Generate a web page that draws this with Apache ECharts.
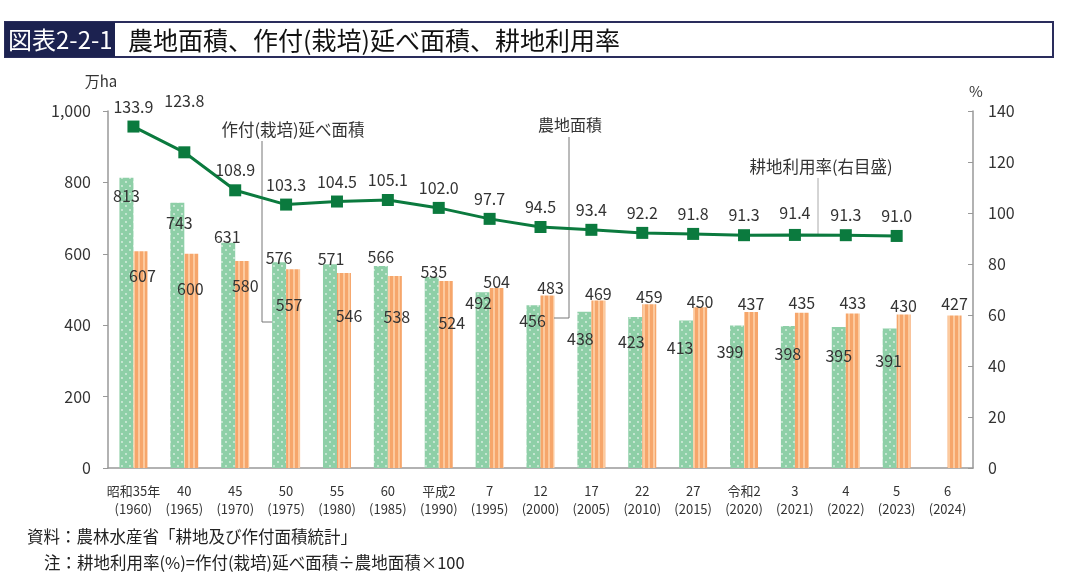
<!DOCTYPE html>
<html>
<head>
<meta charset="utf-8">
<script src="https://cdn.jsdelivr.net/npm/echarts@6.0.0/dist/echarts.min.js"></script>
<style>
html,body{margin:0;padding:0;background:#fff;}
#main{width:1067px;height:585px;}
</style>
</head>
<body>
<div id="main"></div>
<script>
// 和暦・西暦ラベル
var eraLabels = ['昭和35年','40','45','50','55','60','平成2','7','12','17','22','27','令和2','3','4','5','6'];
var yearLabels = ['1960','1965','1970','1975','1980','1985','1990','1995','2000','2005','2010','2015','2020','2021','2022','2023','2024'];
// 農地面積(万ha)
var farmland = [813,743,631,576,571,566,535,492,456,438,423,413,399,398,395,391,null];
// 作付(栽培)延べ面積(万ha)
var planted = [607,600,580,557,546,538,524,504,483,469,459,450,437,435,433,430,427];
// 耕地利用率(%)
var utilRate = [133.9,123.8,108.9,103.3,104.5,105.1,102.0,97.7,94.5,93.4,92.2,91.8,91.3,91.4,91.3,91.0,null];

// ラベル位置の微調整 [dx, dy]
var farmlandLabelShift = [[0,31],[2,33],[-1,7],[0,9],[1,8],[0,4],[2,8],[-4,24],[-1,29],[-4,40],[-4,38],[-6,40],[-7,39],[0,41],[0,42],[-1,46],[0,0]];
var plantedLabelShift = [[2,38],[-1,48],[3,38],[-4,49],[5,56],[2,54],[6,55],[0,7],[3,5],[0,6],[0,6],[0,8],[0,5],[0,3],[0,3],[0,4],[0,1]];
var rateLabelShift = [0,-31,0,0,0,0,0,0,0,0,0,0,0,-2,0,0,0];

var FONT = '"Noto Sans CJK JP","Noto Sans",sans-serif';

function makeDots() {
    var c = document.createElement('canvas');
    c.width = 8; c.height = 8;
    var g = c.getContext('2d');
    g.fillStyle = '#8ecfa7';
    g.fillRect(0, 0, 8, 8);
    g.fillStyle = 'rgba(255,255,255,0.7)';
    g.beginPath(); g.arc(2, 2, 0.9, 0, Math.PI * 2); g.fill();
    g.beginPath(); g.arc(6, 6, 0.9, 0, Math.PI * 2); g.fill();
    return c;
}
function makeStripes() {
    var c = document.createElement('canvas');
    c.width = 5; c.height = 4;
    var g = c.getContext('2d');
    g.fillStyle = '#f6a66b';
    g.fillRect(0, 0, 5, 4);
    g.fillStyle = '#fcca9e';
    g.fillRect(3, 0, 2, 4);
    return c;
}

var cats = eraLabels.map(function (e, i) { return e + '\n(' + yearLabels[i] + ')'; });

function barData(vals, shift) {
    return vals.map(function (v, i) {
        return { value: v, label: { offset: shift[i] } };
    });
}
function lineData(vals, shift) {
    return vals.map(function (v, i) {
        return { value: v, label: { offset: [0, shift[i]] } };
    });
}

var myChart = echarts.init(document.getElementById('main'));
var option = {
    animation: false,
    textStyle: { fontFamily: FONT },
    grid: { left: 108, right: 94, top: 111, bottom: 117 },
    xAxis: {
        type: 'category',
        data: cats,
        axisLine: { lineStyle: { color: '#999', width: 1.5 } },
        axisTick: { show: false },
        axisLabel: { color: '#333', fontSize: 13, lineHeight: 18, margin: 14, interval: 0, fontFamily: FONT }
    },
    yAxis: [{
        type: 'value',
        min: 0, max: 1000, interval: 200,
        name: '万ha',
        nameGap: 22,
        nameTextStyle: { color: '#333', fontSize: 15, align: 'center', padding: [0, 14, 0, 0], fontFamily: FONT },
        axisLine: { show: true, lineStyle: { color: '#999', width: 1.5 } },
        axisTick: { show: true, length: 5, lineStyle: { color: '#999' } },
        splitLine: { show: false },
        axisLabel: {
            color: '#333', fontSize: 16, margin: 17, fontFamily: FONT,
            formatter: function (v) { return v.toLocaleString('en-US'); }
        }
    }, {
        type: 'value',
        min: 0, max: 140, interval: 20,
        name: '%',
        nameGap: 12,
        nameTextStyle: { color: '#333', fontSize: 15, align: 'center', padding: [0, 0, 0, 6], fontFamily: FONT },
        axisLine: { show: true, lineStyle: { color: '#999', width: 1.5 } },
        axisTick: { show: true, inside: true, length: 5, lineStyle: { color: '#999' } },
        splitLine: { show: false },
        axisLabel: { color: '#333', fontSize: 16, margin: 15, fontFamily: FONT }
    }],
    series: [{
        name: '農地面積',
        type: 'bar',
        barWidth: 14,
        barGap: '0%',
        data: barData(farmland, farmlandLabelShift),
        itemStyle: { color: { image: makeDots(), repeat: 'repeat' } },
        label: { show: true, position: 'top', distance: 5, color: '#333', fontSize: 16, fontFamily: FONT },
        z: 2
    }, {
        name: '作付(栽培)延べ面積',
        type: 'bar',
        barWidth: 14,
        data: barData(planted, plantedLabelShift),
        itemStyle: { color: { image: makeStripes(), repeat: 'repeat' } },
        label: { show: true, position: 'top', distance: 5, color: '#333', fontSize: 16, fontFamily: FONT },
        z: 2
    }, {
        name: '耕地利用率',
        type: 'line',
        yAxisIndex: 1,
        data: lineData(utilRate, rateLabelShift),
        symbol: 'rect',
        symbolSize: 12,
        lineStyle: { color: '#0b7a3e', width: 3 },
        itemStyle: { color: '#0b7a3e' },
        label: { show: true, position: 'top', distance: 6, color: '#333', fontSize: 16, fontFamily: FONT,
            formatter: function (p) { return p.value.toFixed(1); } },
        z: 5
    }],
    graphic: [
        // タイトル
        { type: 'rect', shape: { x: 5, y: 22, width: 1048, height: 35 }, style: { fill: '#fff', stroke: '#2a2d5c', lineWidth: 2 } },
        { type: 'rect', shape: { x: 5, y: 22, width: 110, height: 35 }, style: { fill: '#1c2250' } },
        { type: 'text', x: 8, y: 40, style: { text: '図表2-2-1', fill: '#fff', font: '24px ' + FONT, verticalAlign: 'middle' } },
        { type: 'text', x: 128, y: 40, style: { text: '農地面積、作付(栽培)延べ面積、耕地利用率', fill: '#111', font: '25px ' + FONT, verticalAlign: 'middle' } },
        // 引出線
        { type: 'polyline', shape: { points: [[262, 141], [262, 322], [272, 322]] }, style: { stroke: '#777', lineWidth: 1, fill: null }, z: 3 },
        { type: 'text', x: 293, y: 130, style: { text: '作付(栽培)延べ面積', fill: '#333', font: '16.5px ' + FONT, align: 'center', verticalAlign: 'middle' } },
        { type: 'polyline', shape: { points: [[569, 137], [569, 318], [554, 318]] }, style: { stroke: '#777', lineWidth: 1, fill: null }, z: 3 },
        { type: 'text', x: 570, y: 125, style: { text: '農地面積', fill: '#333', font: '16px ' + FONT, align: 'center', verticalAlign: 'middle' } },
        { type: 'line', shape: { x1: 818, y1: 178, x2: 818, y2: 234 }, style: { stroke: '#aaa', lineWidth: 1 }, z: 3 },
        { type: 'text', x: 821, y: 167, style: { text: '耕地利用率(右目盛)', fill: '#333', font: '16.5px ' + FONT, align: 'center', verticalAlign: 'middle' } },
        // 出典・注
        { type: 'text', x: 27, y: 537, style: { text: '資料：農林水産省「耕地及び作付面積統計」', fill: '#222', font: '16.5px ' + FONT, verticalAlign: 'middle' } },
        { type: 'text', x: 44, y: 563, style: { text: '注：耕地利用率(%)=作付(栽培)延べ面積÷農地面積×100', fill: '#222', font: '16.5px ' + FONT, verticalAlign: 'middle' } }
    ]
};
myChart.setOption(option);
</script>
</body>
</html>
